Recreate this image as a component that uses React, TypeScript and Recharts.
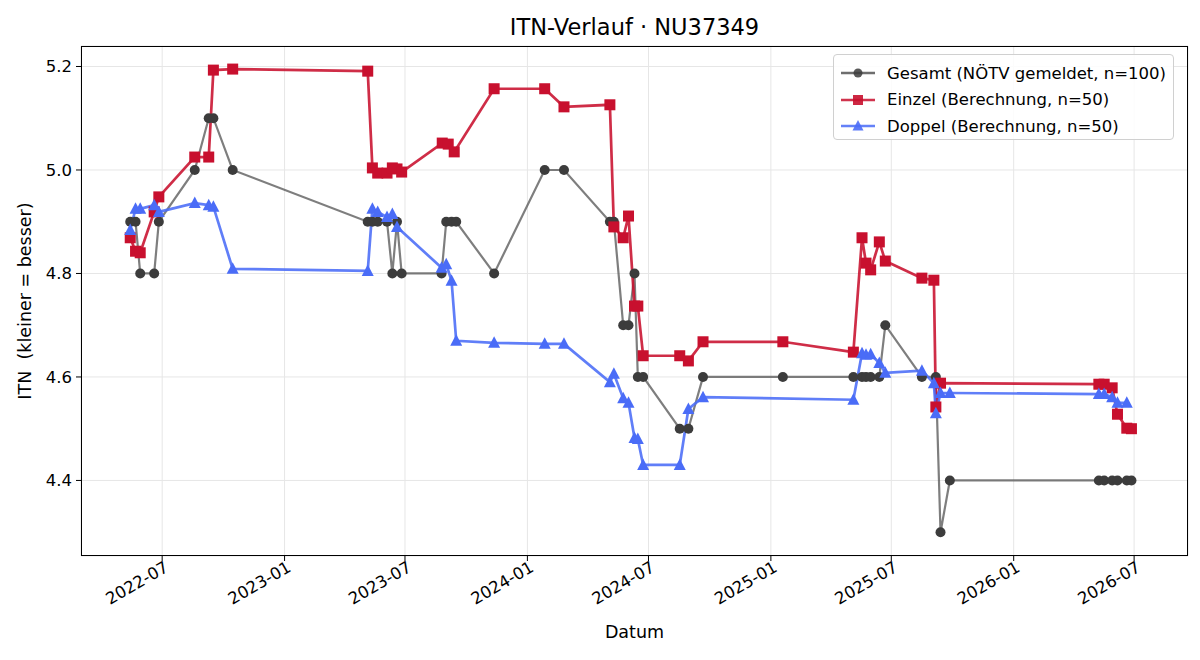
import React from 'react';
import { LineChart, Line, XAxis, YAxis, CartesianGrid } from 'recharts';

const gesamtDates = [
  '2022-05-14', '2022-05-22', '2022-05-29', '2022-06-19', '2022-06-26', '2022-08-19', '2022-09-09', '2022-09-16',
  '2022-10-15', '2023-05-06', '2023-05-13', '2023-05-21', '2023-06-04', '2023-06-12', '2023-06-19', '2023-06-26',
  '2023-08-25', '2023-09-01', '2023-09-09', '2023-09-16', '2023-11-12', '2024-01-27', '2024-02-25', '2024-05-04',
  '2024-05-10', '2024-05-24', '2024-06-01', '2024-06-10', '2024-06-15', '2024-06-23', '2024-08-17', '2024-08-30',
  '2024-09-21', '2025-01-19', '2025-05-05', '2025-05-18', '2025-05-24', '2025-05-31', '2025-06-13', '2025-06-22',
  '2025-08-16', '2025-09-06', '2025-09-13', '2025-09-27', '2026-05-09', '2026-05-17', '2026-05-29', '2026-06-06',
  '2026-06-20', '2026-06-27',
];
const gesamtValues = [
  4.9, 4.9, 4.8, 4.8, 4.9, 5.0, 5.1, 5.1,
  5.0, 4.9, 4.9, 4.9, 4.9, 4.8, 4.9, 4.8,
  4.8, 4.9, 4.9, 4.9, 4.8, 5.0, 5.0, 4.9,
  4.9, 4.7, 4.7, 4.8, 4.6, 4.6, 4.5, 4.5,
  4.6, 4.6, 4.6, 4.6, 4.6, 4.6, 4.6, 4.7,
  4.6, 4.6, 4.3, 4.4, 4.4, 4.4, 4.4, 4.4,
  4.4, 4.4,
];

const einzelDates = [
  '2022-05-14', '2022-05-22', '2022-05-29', '2022-06-19', '2022-06-26', '2022-08-19', '2022-09-09', '2022-09-16',
  '2022-10-15', '2023-05-06', '2023-05-13', '2023-05-21', '2023-06-04', '2023-06-12', '2023-06-19', '2023-06-26',
  '2023-08-26', '2023-09-04', '2023-09-13', '2023-11-12', '2024-01-27', '2024-02-25', '2024-05-04', '2024-05-10',
  '2024-05-24', '2024-06-01', '2024-06-10', '2024-06-15', '2024-06-23', '2024-08-17', '2024-08-30', '2024-09-21',
  '2025-01-19', '2025-05-05', '2025-05-18', '2025-05-24', '2025-05-31', '2025-06-13', '2025-06-22', '2025-08-16',
  '2025-09-03', '2025-09-06', '2025-09-13', '2026-05-09', '2026-05-17', '2026-05-29', '2026-06-06', '2026-06-20',
  '2026-06-27',
];
const einzelValues = [
  4.869, 4.843, 4.840, 4.919, 4.948, 5.025, 5.025, 5.193,
  5.195, 5.191, 5.004, 4.994, 4.994, 5.004, 5.002, 4.996,
  5.052, 5.050, 5.035, 5.157, 5.157, 5.122, 5.126, 4.890,
  4.869, 4.911, 4.737, 4.737, 4.641, 4.641, 4.631, 4.668,
  4.668, 4.648, 4.869, 4.820, 4.807, 4.861, 4.824, 4.791,
  4.787, 4.542, 4.588, 4.586, 4.586, 4.579, 4.528, 4.501,
  4.500,
];

const doppelDates = [
  '2022-05-14', '2022-05-22', '2022-05-29', '2022-06-19', '2022-06-26', '2022-08-19', '2022-09-09', '2022-09-16',
  '2022-10-15', '2023-05-06', '2023-05-13', '2023-05-21', '2023-06-04', '2023-06-12', '2023-06-19', '2023-08-25',
  '2023-09-01', '2023-09-09', '2023-09-16', '2023-11-12', '2024-01-27', '2024-02-25', '2024-05-04', '2024-05-10',
  '2024-05-24', '2024-06-01', '2024-06-10', '2024-06-15', '2024-06-23', '2024-08-17', '2024-08-30', '2024-09-21',
  '2025-05-05', '2025-05-18', '2025-05-24', '2025-05-31', '2025-06-13', '2025-06-22', '2025-08-16', '2025-09-03',
  '2025-09-06', '2025-09-13', '2025-09-27', '2026-05-09', '2026-05-17', '2026-05-29', '2026-06-06', '2026-06-20',
];
const doppelValues = [
  4.884, 4.925, 4.925, 4.932, 4.919, 4.936, 4.932, 4.929,
  4.809, 4.805, 4.925, 4.919, 4.909, 4.915, 4.890, 4.811,
  4.818, 4.786, 4.670, 4.666, 4.664, 4.664, 4.590, 4.606,
  4.559, 4.550, 4.482, 4.480, 4.430, 4.430, 4.538, 4.561,
  4.556, 4.646, 4.643, 4.644, 4.627, 4.608, 4.612, 4.588,
  4.530, 4.569, 4.569, 4.567, 4.567, 4.561, 4.550, 4.550,
];

const xTickDates = [
  '2022-07-01', '2023-01-01', '2023-07-01', '2024-01-01', '2024-07-01',
  '2025-01-01', '2025-07-01', '2026-01-01', '2026-07-01',
];
const yTicks = [4.4, 4.6, 4.8, 5.0, 5.2];

const FONT = '"DejaVu Sans", sans-serif';
const GREY = '#555555';
const RED = '#c8102e';
const BLUE = '#4a6cf7';

const toSeries = (dates: string[], values: number[]) =>
  dates.map((d, i) => ({ t: Date.parse(d), v: values[i] }));

const gesamtData = toSeries(gesamtDates, gesamtValues);
const einzelData = toSeries(einzelDates, einzelValues);
const doppelData = toSeries(doppelDates, doppelValues);
const xTicks = xTickDates.map((d) => Date.parse(d));
const xDomain = [Date.parse('2022-03-01'), Date.parse('2026-09-20')];

const fmtMonth = (t: number) => {
  const d = new Date(t);
  return `${d.getUTCFullYear()}-${String(d.getUTCMonth() + 1).padStart(2, '0')}`;
};

const DateTick = ({ x, y, payload }: any) => (
  <g transform={`translate(${x + 2},${y - 2})`}>
    <text x={0} y={0} dy={11} textAnchor="end" transform="rotate(-30)" fontSize={16.5} fill="#000" fontFamily={FONT}>
      {fmtMonth(payload.value)}
    </text>
  </g>
);

const CircleDot = ({ cx, cy }: any) =>
  cx == null ? null : <circle cx={cx} cy={cy} r={5} fill="#3c3c3c" />;

const SquareDot = ({ cx, cy }: any) =>
  cx == null ? null : <rect x={cx - 5.5} y={cy - 5.5} width={11} height={11} fill={RED} />;

const TriangleDot = ({ cx, cy }: any) =>
  cx == null ? null : (
    <polygon points={`${cx},${cy - 6.5} ${cx - 6},${cy + 5} ${cx + 6},${cy + 5}`} fill={BLUE} />
  );

const legendItems = [
  { label: 'Gesamt (NÖTV gemeldet, n=100)', color: GREY, marker: 'circle' },
  { label: 'Einzel (Berechnung, n=50)', color: RED, marker: 'square' },
  { label: 'Doppel (Berechnung, n=50)', color: BLUE, marker: 'triangle' },
];

const LegendBox = () => (
  <div
    style={{
      position: 'absolute', left: 833, top: 54, width: 341, height: 86, boxSizing: 'border-box',
      border: '1px solid #d0d0d0', borderRadius: 4, background: 'rgba(255,255,255,0.85)',
      padding: '5px 0 0 6px',
    }}
  >
    {legendItems.map((it) => (
      <div key={it.label} style={{ display: 'flex', alignItems: 'center', height: 26.5 }}>
        <svg width={36} height={14} style={{ marginRight: 11 }}>
          <line x1={1} y1={7} x2={35} y2={7} stroke={it.color} strokeWidth={2.4} opacity={0.85} />
          {it.marker === 'circle' && <circle cx={18} cy={7} r={4.5} fill="#3c3c3c" opacity={0.85} />}
          {it.marker === 'square' && <rect x={13} y={2} width={10} height={10} fill={RED} opacity={0.9} />}
          {it.marker === 'triangle' && <polygon points="18,1 12.5,11.5 23.5,11.5" fill={BLUE} opacity={0.9} />}
        </svg>
        <span style={{ fontSize: 16.5, color: '#000', whiteSpace: 'pre' }}>{it.label}</span>
      </div>
    ))}
  </div>
);

export default function App() {
  return (
    <div style={{ position: 'absolute', left: 0, top: 0, width: 1200, height: 660, background: '#fff', fontFamily: FONT }}>
      <div style={{ position: 'absolute', left: 81, width: 1107, top: 14, textAlign: 'center', fontSize: 22.5, color: '#000' }}>
        ITN-Verlauf · NU37349
      </div>
      <LineChart width={1200} height={660} margin={{ top: 46, right: 12, left: 20, bottom: 44 }}>
        <CartesianGrid stroke="#e6e6e6" strokeWidth={1} />
        <XAxis
          type="number"
          dataKey="t"
          domain={xDomain}
          ticks={xTicks}
          allowDataOverflow
          height={60}
          axisLine={false}
          tickLine={{ stroke: '#000' }}
          tickSize={5}
          tick={<DateTick />}
          interval={0}
        />
        <YAxis
          type="number"
          dataKey="v"
          domain={[4.254, 5.2396]}
          ticks={yTicks}
          allowDataOverflow
          width={61}
          axisLine={false}
          tickLine={{ stroke: '#000' }}
          tickSize={5}
          tickMargin={4}
          tickFormatter={(v: number) => v.toFixed(1)}
          tick={{ fontSize: 16.5, fill: '#000', fontFamily: FONT }}
        />
        <Line
          data={gesamtData}
          dataKey="v"
          stroke={GREY}
          strokeOpacity={0.8}
          strokeWidth={2.2}
          dot={<CircleDot />}
          activeDot={false}
          isAnimationActive={false}
          opacity={0.95}
        />
        <Line
          data={einzelData}
          dataKey="v"
          stroke={RED}
          strokeWidth={2.7}
          dot={<SquareDot />}
          activeDot={false}
          isAnimationActive={false}
          opacity={0.88}
        />
        <Line
          data={doppelData}
          dataKey="v"
          stroke={BLUE}
          strokeWidth={2.7}
          dot={<TriangleDot />}
          activeDot={false}
          isAnimationActive={false}
          opacity={0.88}
        />
      </LineChart>
      <div
        style={{
          position: 'absolute', left: 81, top: 46, width: 1107, height: 510, boxSizing: 'border-box',
          border: '1px solid #000', pointerEvents: 'none',
        }}
      />
      <LegendBox />
      <div style={{ position: 'absolute', left: 81, width: 1107, top: 622, textAlign: 'center', fontSize: 17.5, color: '#000' }}>
        Datum
      </div>
      <div
        style={{
          position: 'absolute', left: 25, top: 301, transform: 'translate(-50%, -50%) rotate(-90deg)',
          fontSize: 17.5, color: '#000', whiteSpace: 'pre',
        }}
      >
        ITN  (kleiner = besser)
      </div>
    </div>
  );
}
